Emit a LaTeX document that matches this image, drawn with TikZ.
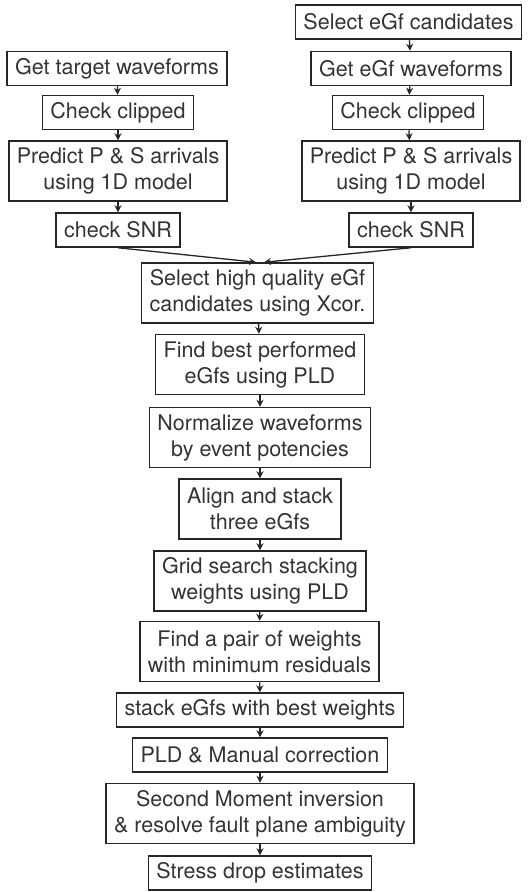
\documentclass[tikz,border=0pt]{standalone}
\usepackage{fontspec}
\setmainfont{TeX Gyre Heros}
\usetikzlibrary{arrows.meta}

\tikzset{
  proc/.style={draw=black!85, line width=1.5pt, text=black!80, align=center,
    inner xsep=8pt, inner ysep=0pt, minimum height=34pt,
    font=\fontsize{21.5}{26}\selectfont},
  twoline/.style={minimum height=60pt},
  flow/.style={-{Stealth[length=7pt,width=7pt]}, line width=1.3pt, draw=black!85}
}

\begin{document}
\begin{tikzpicture}[x=1pt,y=-1pt]
    \useasboundingbox (0,0) rectangle (528,892);

    %left branch
    \node[proc] (tgt) at (117,68.5) {Get target waveforms};
    \node[proc] (clipL) at (118,112.5) {Check clipped};
    \node[proc,twoline] (predL) at (118,171) {Predict P \& S arrivals\\using 1D model};
    \node[proc] (snrL) at (118,230) {check SNR};

    %right branch
    \node[proc] (sel) at (408.5,22) {Select eGf candidates};
    \node[proc] (egf) at (411,68.5) {Get eGf waveforms};
    \node[proc] (clipR) at (408,112.5) {Check clipped};
    \node[proc,twoline] (predR) at (411,171) {Predict P \& S arrivals\\using 1D model};
    \node[proc] (snrR) at (411,230) {check SNR};

    %main column
    \node[proc,twoline] (xcor) at (257.5,293) {Select high quality eGf\\candidates using Xcor.};
    \node[proc,twoline] (best) at (260,364.5) {Find best performed\\eGfs using PLD};
    \node[proc,twoline] (norm) at (260,437.5) {Normalize waveforms\\by event potencies};
    \node[proc,twoline] (align) at (260,509) {Align and stack\\three eGfs};
    \node[proc,twoline] (grid) at (260,581) {Grid search stacking\\weights using PLD};
    \node[proc,twoline] (pair) at (259.5,651.5) {Find a pair of weights\\with minimum residuals};
    \node[proc] (stack) at (260,710) {stack eGfs with best weights};
    \node[proc] (manual) at (260,755) {PLD \& Manual correction};
    \node[proc,twoline] (moment) at (260,813.5) {Second Moment inversion\\\& resolve fault plane ambiguity};
    \node[proc] (stress) at (260,873) {Stress drop estimates};

    %arrows
    \draw[flow] (tgt) -- (clipL);
    \draw[flow] (clipL) -- (predL);
    \draw[flow] (predL) -- (snrL);
    \draw[flow] (sel) -- (egf);
    \draw[flow] (egf) -- (clipR);
    \draw[flow] (clipR) -- (predR);
    \draw[flow] (predR) -- (snrR);
    \draw[flow] (snrL.south) -- ([xshift=-1.5pt]xcor.north);
    \draw[flow] (snrR.south) -- ([xshift=6.5pt]xcor.north);
    \draw[flow] (xcor) -- (best);
    \draw[flow] (best) -- (norm);
    \draw[flow] (norm) -- (align);
    \draw[flow] (align) -- (grid);
    \draw[flow] (grid) -- (pair);
    \draw[flow] (pair) -- (stack);
    \draw[flow] (stack) -- (manual);
    \draw[flow] (manual) -- (moment);
    \draw[flow] (moment) -- (stress);
\end{tikzpicture}
\end{document}
